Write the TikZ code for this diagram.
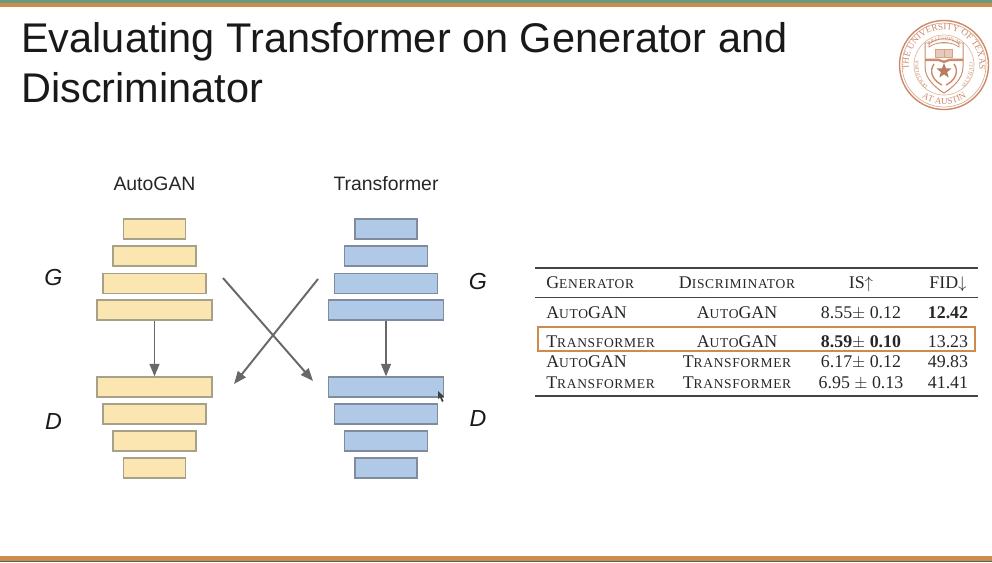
\documentclass[tikz,border=0pt]{standalone}
\usepackage{fontspec}
\setmainfont{Liberation Sans}
\newfontfamily\tablefont{Liberation Serif}
\newfontfamily\capsfont[LetterSpace=5]{Liberation Serif}
\usepackage{amsmath,amssymb}
\usetikzlibrary{positioning}
\usetikzlibrary{calc}
\usetikzlibrary{arrows.meta}
\usetikzlibrary{shapes.geometric}
\usetikzlibrary{decorations.text}
\definecolor{bandorange}{HTML}{D08B4C}
\definecolor{bandteal}{HTML}{659C80}
\definecolor{sealcol}{HTML}{CC8A68}
\definecolor{autofill}{HTML}{FBE5B0}
\definecolor{autoline}{HTML}{A8A18A}
\definecolor{transfill}{HTML}{AFC9E6}
\definecolor{transline}{HTML}{808C9E}
\definecolor{arrowcol}{HTML}{686868}
\definecolor{rulecol}{HTML}{444444}
\newcommand{\sct}[2]{#1{\capsfont\fontsize{9.6pt}{12pt}\selectfont #2}}
\tikzset{
  autobar/.style={draw=autoline, fill=autofill, line width=0.8pt, minimum height=0.5cm, inner sep=0pt, minimum width=#1*0.025cm},
  transbar/.style={draw=transline, fill=transfill, line width=0.8pt, minimum height=0.5cm, inner sep=0pt, minimum width=#1*0.025cm},
  flow/.style={draw=arrowcol, line width=1.4pt, -{Triangle[length=9pt,width=7pt]}},
  cell/.style={font=\tablefont\fontsize{12.7pt}{14pt}\selectfont, text=black!85, inner sep=0pt, anchor=base},
  lcell/.style={cell, anchor=base west},
  bigl/.style={font=\itshape\fontsize{16.5pt}{18pt}\selectfont, text=black!90, inner sep=0pt},
  rulel/.style={draw=rulecol, line width=0.9pt},
  sealbig/.style={decorate, decoration={text along path, text align=center, text={|\tablefont\fontsize{6.5pt}{7pt}\selectfont\color{sealcol}|#1}}},
  sealsmall/.style={decorate, decoration={text along path, text align=center, text={|\tablefont\fontsize{3.7pt}{4pt}\selectfont\color{sealcol}|#1}}}
}
\begin{document}
\begin{tikzpicture}[x=0.025cm,y=-0.025cm]
  \useasboundingbox (0,0) rectangle (992,562);
  \fill[bandteal] (0,0) rectangle (992,3);
  \fill[bandorange] (0,3) rectangle (992,7);
  \fill[bandorange] (0,556) rectangle (992,561);
  \fill[bandteal!70!black] (0,561) rectangle (992,562);

  \node[anchor=base west, inner sep=0pt, font=\fontsize{29.5pt}{33pt}\selectfont, text=black!90] (title1) at (21,52) {Evaluating Transformer on Generator and};
  \node[anchor=base west, inner sep=0pt, font=\fontsize{29.5pt}{33pt}\selectfont, text=black!90] (title2) at (21,102) {Discriminator};

  \node[font=\fontsize{13.8pt}{15pt}\selectfont, text=black!85] (autoT) at (154.5,184) {AutoGAN};
  \node[font=\fontsize{13.8pt}{15pt}\selectfont, text=black!85] (transT) at (386,184) {Transformer};

  \node[autobar=62]  (autoG1) at (154.5,229) {};
  \node[autobar=83]  (autoG2) at (154.5,256) {};
  \node[autobar=103] (autoG3) at (154.5,283.5) {};
  \node[autobar=115] (autoG4) at (154.5,310) {};
  \node[autobar=115] (autoD1) at (154.5,387) {};
  \node[autobar=103] (autoD2) at (154.5,414) {};
  \node[autobar=83]  (autoD3) at (154.5,441) {};
  \node[autobar=62]  (autoD4) at (154.5,468) {};

  \node[transbar=62]  (transG1) at (386,229) {};
  \node[transbar=83]  (transG2) at (386,256) {};
  \node[transbar=103] (transG3) at (386,283.5) {};
  \node[transbar=115] (transG4) at (386,310) {};
  \node[transbar=115] (transD1) at (386,387) {};
  \node[transbar=103] (transD2) at (386,414) {};
  \node[transbar=83]  (transD3) at (386,441) {};
  \node[transbar=62]  (transD4) at (386,468) {};

  \node[bigl] (GL) at (53.5,278) {G};
  \node[bigl] (DL) at (53.5,422) {D};
  \node[bigl] (GR) at (478,282) {G};
  \node[bigl] (DR) at (478,419) {D};

  \coordinate (crossA) at (223,278);
  \coordinate (crossB) at (313,381);
  \coordinate (crossC) at (318,279);
  \coordinate (crossD) at (234,384);

  \draw[flow] (autoG4) -- (autoD1);
  \draw[flow] (transG4) -- (transD1);
  \draw[flow] (crossA) -- (crossB);
  \draw[flow] (crossC) -- (crossD);

  % pointer
  \fill[black!75] (438,391) -- (438,399) -- (440,397.5) -- (442,402) -- (443.5,401) -- (441.5,397) -- (444,396.5) -- cycle;

  % table
  \coordinate (ruleTL) at (535,268);
  \coordinate (ruleTR) at (978,268);
  \coordinate (ruleML) at (535,297);
  \coordinate (ruleMR) at (978,297);
  \coordinate (ruleBL) at (535,396);
  \coordinate (ruleBR) at (978,396);
  \draw[rulel] (ruleTL) -- (ruleTR);
  \draw[rulel, line width=0.6pt] (ruleML) -- (ruleMR);
  \draw[rulel] (ruleBL) -- (ruleBR);
  \node[draw=bandorange, line width=1.1pt, minimum width=437*0.025cm, minimum height=24*0.025cm, inner sep=0pt] (highlight) at (756.5,339) {};

  \node[lcell] (h1) at (546,288) {\sct{G}{ENERATOR}};
  \node[cell]  (h2) at (737,288) {\sct{D}{ISCRIMINATOR}};
  \node[cell]  (h3) at (861,288) {IS$\uparrow$};
  \node[cell]  (h4) at (948,288) {FID$\downarrow$};

  \node[lcell] (a1) at (546,318) {\sct{A}{UTO}GAN};
  \node[cell]  (a2) at (737,318) {\sct{A}{UTO}GAN};
  \node[cell]  (a3) at (861,318) {8.55$\pm$ 0.12};
  \node[cell]  (a4) at (948,318) {\textbf{12.42}};

  \node[lcell] (b1) at (546,347) {\sct{T}{RANSFORMER}};
  \node[cell]  (b2) at (737,347) {\sct{A}{UTO}GAN};
  \node[cell]  (b3) at (861,347) {\textbf{8.59}$\pm$ \textbf{0.10}};
  \node[cell]  (b4) at (948,347) {13.23};

  \node[lcell] (c1) at (546,367) {\sct{A}{UTO}GAN};
  \node[cell]  (c2) at (737,367) {\sct{T}{RANSFORMER}};
  \node[cell]  (c3) at (861,367) {6.17$\pm$ 0.12};
  \node[cell]  (c4) at (948,367) {49.83};

  \node[lcell] (d1) at (546,388) {\sct{T}{RANSFORMER}};
  \node[cell]  (d2) at (737,388) {\sct{T}{RANSFORMER}};
  \node[cell]  (d3) at (861,388) {6.95 $\pm$ 0.13};
  \node[cell]  (d4) at (948,388) {41.41};

  % seal
  \begin{scope}[shift={(944,65)}]
    \draw[sealcol, line width=1pt] (0,0) circle [radius=44.5];
    \draw[sealcol!70, line width=0.5pt] (0,0) circle [radius=42];
    \draw[sealcol!60, line width=0.5pt] (0,0) circle [radius=30];
    \path[sealbig={THE UNIVERSITY OF TEXAS}] (-34.5,8) arc [start angle=167, end angle=373, radius=35.4];
    \path[sealbig={AT AUSTIN}] (-25,30) arc [start angle=130, end angle=50, radius=39];
    \draw[sealcol, line width=0.7pt, fill=white] (-19,-22) -- (19,-22) -- (19,2) .. controls (19,14) and (8,23) .. (0,28) .. controls (-8,23) and (-19,14) .. (-19,2) -- cycle;
    \draw[sealcol, line width=0.5pt, fill=white] (-15,-21) .. controls (-7,-28) and (7,-28) .. (15,-21) -- (15,-18) .. controls (7,-24) and (-7,-24) .. (-15,-18) -- cycle;
    \draw[sealcol!80, line width=0.5pt, fill=sealcol!45] (-8.5,-16) rectangle (8.5,-8);
    \draw[sealcol!80, line width=0.4pt] (0,-16) -- (0,-8);
    \fill[sealcol] (-19,-6.5) -- (-6,-6.5) -- (0,-4.5) -- (6,-6.5) -- (19,-6.5) -- (19,-4) -- (6,-4) -- (0,-2) -- (-6,-4) -- (-19,-4) -- cycle;
    \draw[sealcol, line width=1pt] (-10,-1) .. controls (-15,6) and (-12,15) .. (-2,20);
    \draw[sealcol, line width=1pt] (10,-1) .. controls (15,6) and (12,15) .. (2,20);
    \node[star, star points=5, star point ratio=2.4, fill=sealcol!90!black, inner sep=0pt, minimum size=16*0.025cm] (sealstar) at (0,6) {};
    \path[sealsmall={PRAESIDIUM}] (-14,-20.5) .. controls (-6,-26) and (6,-26) .. (14,-20.5);
    \path[sealsmall={DISCIPLINA}] (-15,23) .. controls (-23,16) and (-27,6) .. (-25,-6);
    \path[sealsmall={CIVITATIS}] (25,-6) .. controls (27,6) and (23,16) .. (15,23);
  \end{scope}
\end{tikzpicture}
\end{document}
